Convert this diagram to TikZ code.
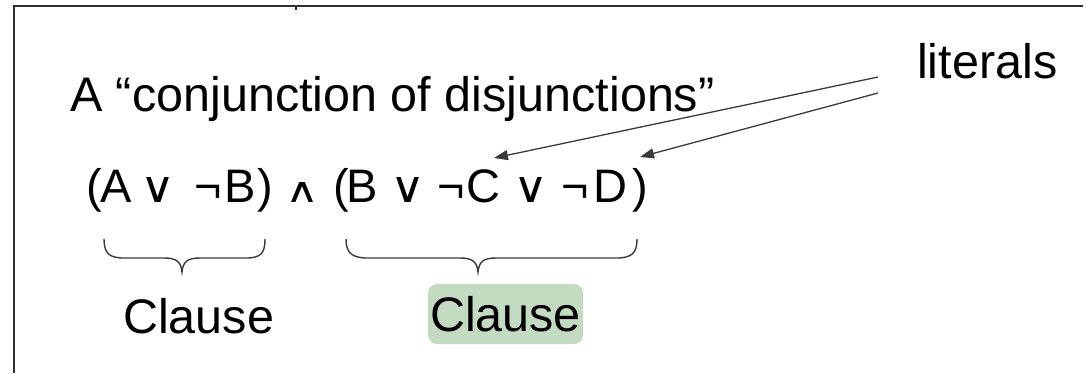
\documentclass[tikz,border=0pt]{standalone}
\usepackage{fontspec}
\usepackage{graphicx}
\setmainfont{Liberation Sans}
\newfontfamily\dejavu{DejaVu Sans}
\usetikzlibrary{arrows.meta}
\definecolor{framegray}{HTML}{303030}
\definecolor{linegray}{HTML}{3A3A3A}
\definecolor{sage}{HTML}{C3DBC0}
\newcommand{\orsym}{\resizebox{35pt}{25pt}{\dejavu ∨}}
\newcommand{\andsym}{\resizebox{34pt}{20pt}{\dejavu ∧}}
\tikzset{
  big/.style={inner sep=0pt, font=\fontsize{48.5}{58}\selectfont},
  formula/.style={inner sep=0pt, anchor=base west, font=\fontsize{47}{56}\selectfont},
  bracestyle/.style={draw=linegray, line width=1.4pt},
  arrowstyle/.style={draw=linegray, line width=1.3pt, -{Triangle[length=14pt,width=10pt]}},
  framestyle/.style={draw=framegray, line width=2pt},
  hilite/.style={big, fill=sage, rounded corners=9pt, minimum width=155pt, minimum height=60pt}
}
\begin{document}
\begin{tikzpicture}[x=1pt,y=-1pt]
\useasboundingbox (0,0) rectangle (1086,373);
% frame
\draw[framestyle] (14,373) -- (14,6) -- (1083,6);
\draw[draw=framegray, line width=1.5pt] (296,6) -- (296,10);
% title
\node[big, anchor=base west] (title) at (70,111) {A “conjunction of disjunctions”};
\node[big, anchor=base west] (literals) at (917,78) {literals};
% formula
\node[formula] (lp1) at (86,202) {(};
\node[formula] (a1) at (100,202) {A};
\node[formula] (or1) at (140,202) {\orsym};
\node[formula] (n1) at (194,202) {¬};
\node[formula] (b1) at (224,202) {B};
\node[formula] (rp1) at (257,202) {)};
\node[formula] (and1) at (285,202) {\andsym};
\node[formula] (lp2) at (333,202) {(};
\node[formula] (b2) at (346,202) {B};
\node[formula] (or2) at (390,202) {\orsym};
\node[formula] (n2) at (437,202) {¬};
\node[formula] (c2) at (466,202) {C};
\node[formula] (or3) at (513,202) {\orsym};
\node[formula] (n3) at (561,202) {¬};
\node[formula] (d2) at (593,202) {D};
\node[formula] (rp2) at (632,202) {)};
% arrows
\coordinate (lit1) at (878,77);
\coordinate (lit2) at (878,93);
\coordinate (tipC) at (494,158);
\coordinate (tipD) at (640,157);
\draw[arrowstyle] (lit1) -- (tipC);
\draw[arrowstyle] (lit2) -- (tipD);
% braces
\draw[bracestyle] (104,239) .. controls (104,253) and (109,258) .. (124,258) -- (164,258)
  .. controls (177,258) and (181,262) .. (182,272)
  .. controls (183,262) and (187,258) .. (200,258) -- (246,258)
  .. controls (261,258) and (265,253) .. (265,239);
\draw[bracestyle] (346,239) .. controls (346,253) and (352,258) .. (368,258) -- (460,258)
  .. controls (473,258) and (477,262) .. (478,272)
  .. controls (479,262) and (483,258) .. (496,258) -- (616,258)
  .. controls (632,258) and (637,253) .. (637,239);
% clauses
\node[big, anchor=base west] (clause1) at (123,333) {Clause};
\node[hilite] (clause2) at (505.5,314) {Clause};
\end{tikzpicture}
\end{document}
